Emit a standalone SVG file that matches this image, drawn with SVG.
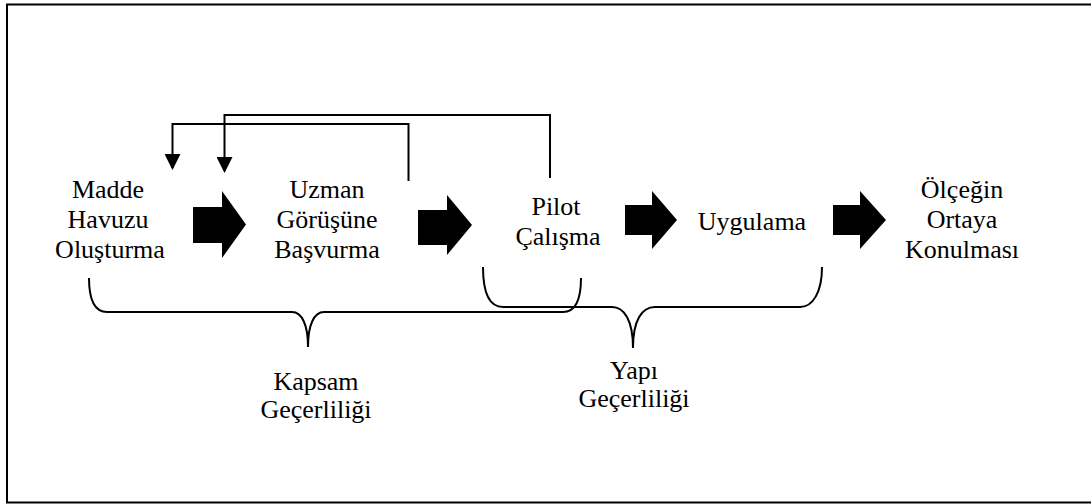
<svg xmlns="http://www.w3.org/2000/svg" width="1091" height="504" viewBox="0 0 1091 504">
<style>
.t{font-family:'Liberation Serif','DejaVu Serif',serif;font-size:26px;fill:#000;text-anchor:middle}
.ln{fill:none;stroke:#000;stroke-width:2}
.blk{fill:#000;stroke:none}
</style>
<defs>
<marker id="ah" markerWidth="16" markerHeight="16" refX="14" refY="8" orient="auto" markerUnits="userSpaceOnUse">
<path d="M0,0 L16,8 L0,16 Z" fill="#000"/>
</marker>
</defs>
<rect x="7" y="4.5" width="1100" height="498" fill="#fff" stroke="#000" stroke-width="2"/>
<g id="n1" class="t"><text x="108" y="198">Madde</text><text x="108" y="228">Havuzu</text><text x="110" y="258">Oluşturma</text></g>
<g id="n2" class="t"><text x="327" y="198">Uzman</text><text x="327" y="228">Görüşüne</text><text x="327" y="258">Başvurma</text></g>
<g id="n3" class="t"><text x="556" y="215">Pilot</text><text x="558" y="245">Çalışma</text></g>
<g id="n4" class="t"><text x="752" y="230">Uygulama</text></g>
<g id="n5" class="t"><text x="962" y="198">Ölçeğin</text><text x="962" y="228">Ortaya</text><text x="962" y="258">Konulması</text></g>
<g id="l1" class="t"><text x="316" y="390">Kapsam</text><text x="316" y="418">Geçerliliği</text></g>
<g id="l2" class="t"><text x="634" y="379">Yapı</text><text x="634" y="407">Geçerliliği</text></g>
<g id="connectors">
<polygon class="blk" points="193,207 222,207 222,191 246,224.5 222,258 222,243 193,243"/>
<polygon class="blk" points="418,210 447,210 447,195 472,225 447,255 447,245 418,245"/>
<polygon class="blk" points="625,205 652,205 652,191 677,220 652,249 652,235 625,235"/>
<polygon class="blk" points="833,205 860,205 860,191 886,220 860,249 860,235 833,235"/>
<path class="ln" d="M408.5,181 V124 H172.5 V168" marker-end="url(#ah)"/>
<path class="ln" d="M550,178 V115 H224.5 V171" marker-end="url(#ah)"/>
<path class="ln" d="M89,278 C89,300 94,312 107,312 L292,312 C302,312 308,325 308,347 C308,325 314,312 324,312 L563,312 C575,312 581,300 581,278"/>
<path class="ln" d="M483,267 C483,292 489,307 503,307 L612,307 C624,307 633,320 633,348 C633,320 642,307 655,307 L800,307 C813,307 822,292 822,267"/>
</g>
</svg>
